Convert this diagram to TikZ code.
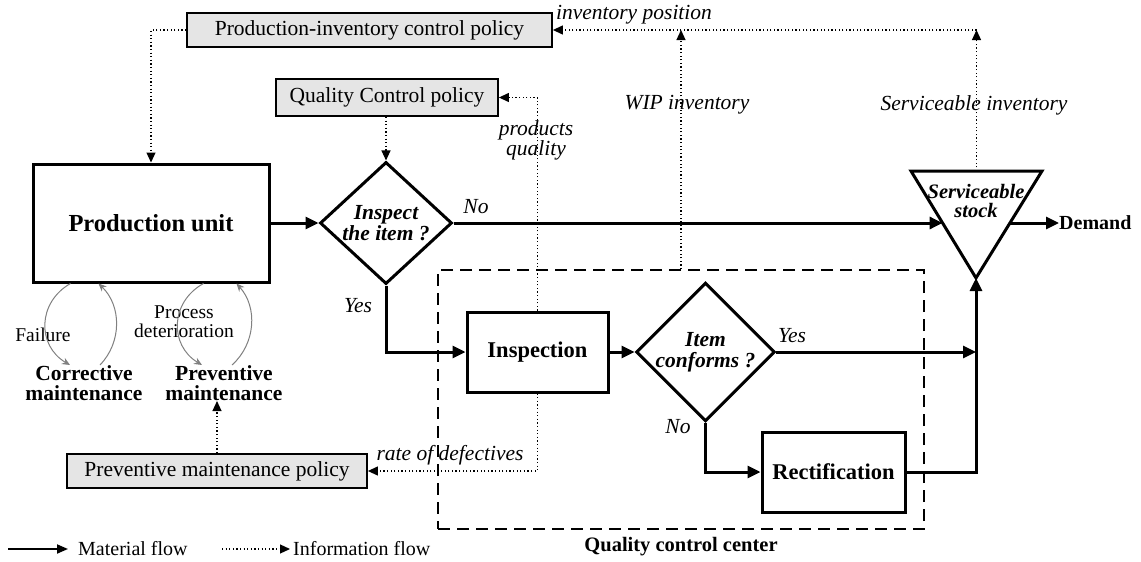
\documentclass[tikz,border=0pt]{standalone}
\usepackage{fontspec}
\setmainfont{Liberation Serif}
\usetikzlibrary{shapes.geometric,arrows.meta,calc}

\tikzset{
  block/.style={draw,line width=3pt,font=\bfseries\fontsize{22.5}{24}\selectfont,inner sep=0pt},
  policy/.style={draw,line width=1.8pt,fill=gray!20,font=\fontsize{21.5}{24}\selectfont,inner sep=0pt},
  decision/.style={diamond,draw,line width=3pt,inner sep=0pt,align=center,font=\bfseries\itshape\fontsize{21.5}{20.5}\selectfont},
  flow/.style={line width=3pt,-{Triangle[length=13pt,width=12pt]}},
  info/.style={line width=1.2pt,dash pattern=on 1.2pt off 2.4pt,-{Triangle[length=10pt,width=9pt]}},
  fb/.style={gray,line width=1pt,-{Stealth[length=8pt,width=7pt]}},
  lbl/.style={font=\itshape\fontsize{21.5}{22}\selectfont,inner sep=0pt},
  note/.style={font=\fontsize{19.5}{19}\selectfont,inner sep=0pt,align=center},
  maint/.style={anchor=north,align=center,font=\bfseries\fontsize{21.5}{20.5}\selectfont,inner sep=0pt},
}

\begin{document}
\begin{tikzpicture}[x=1pt,y=-1pt]
\useasboundingbox (0,0) rectangle (1141,562);

% control policies
\node[policy,minimum width=365pt,minimum height=34pt] (pip) at (369.5,30) {Production-inventory control policy};
\node[policy,minimum width=222pt,minimum height=37pt] (qcp) at (387,97.5) {Quality Control policy};
\node[policy,minimum width=300pt,minimum height=34pt] (pmp) at (217,471) {Preventive maintenance policy};

% quality control center
\node[draw,line width=1.8pt,dash pattern=on 12pt off 7pt,minimum width=486pt,minimum height=259pt] (qcc) at (681,399.5) {};
\node[font=\bfseries\fontsize{20.5}{22}\selectfont,inner sep=0pt] (qcclbl) at (681,547) {Quality control center};

% material flow
\node[block,minimum width=236pt,minimum height=118pt,font=\bfseries\fontsize{24.5}{26}\selectfont] (pu) at (151,223) {Production unit};
\node[decision,minimum width=132pt,minimum height=114pt] (d1) at (386,223) {Inspect\\the item ?};
\node[block,minimum width=141pt,minimum height=80pt] (insp) at (537.5,352) {Inspection};
\node[decision,minimum width=131pt,minimum height=115pt] (d2) at (705.5,352) {Item\\conforms ?};
\node[block,minimum width=143pt,minimum height=80pt] (rect) at (833.5,472) {Rectification};

% serviceable stock
\coordinate (st-l) at (911,171);
\coordinate (st-r) at (1042,171);
\coordinate (st-b) at (976,278);
\draw[line width=3pt,line join=miter] (st-l) -- (st-r) -- (st-b) -- cycle;
\coordinate (st-t) at ($(st-l)!0.5!(st-r)$);
\coordinate (st-in) at ($(st-l)!0.486!(st-b)$);
\coordinate (st-out) at ($(st-r)!0.486!(st-b)$);
\node[align=center,font=\bfseries\itshape\fontsize{20.5}{19}\selectfont,inner sep=0pt] (stock) at (976,201) {Serviceable\\stock};
\node[anchor=west,font=\bfseries\fontsize{20}{22}\selectfont,inner sep=0pt] (dem) at (1059,223) {Demand};

\draw[flow] (pu.east) -- (d1.west);
\draw[flow] (d1.east) -- (d1.east -| st-in);
\draw[flow] (d1.south) |- (insp.west);
\draw[flow] (insp.east) -- (d2.west);
\draw[flow] (d2.east) -- (d2.east -| st-b);
\draw[flow] (d2.south) |- (rect.west);
\draw[flow] (rect.east) -| (st-b);
\draw[flow] (st-out) -- (st-out -| dem.west);

\node[lbl] (no1) at (476,207) {No};
\node[lbl] (yes1) at (358,306) {Yes};
\node[lbl] (yes2) at (792,336) {Yes};
\node[lbl] (no2) at (678,427) {No};

% information flow
\draw[info] (pip.west) -| (pu.north);
\draw[info] (d1.north |- qcp.south) -- (d1.north);
\draw[info] (insp.north) |- (qcp.east);
\draw[info] (insp.south) |- (pmp.east);
\draw[info] (qcc.north) -- (qcc.north |- pip.east);
\draw[info] (st-t) -- (st-t |- pip.east);
\draw[info] (st-t |- pip.east) -- (pip.east);

\node[lbl] (invpos) at (634,15) {inventory position};
\node[lbl] (wip) at (687,105) {WIP inventory};
\node[lbl] (servinv) at (974,105) {Serviceable inventory};
\node[lbl,align=center,font=\itshape\fontsize{21.5}{20}\selectfont] (pq) at (536,140) {products\\quality};
\node[lbl] (rod) at (450,455) {rate of defectives};

% maintenance
\node[maint] (cm) at (84,365) {Corrective\\maintenance};
\node[maint] (pm) at (224,365) {Preventive\\maintenance};
\node[note] (fail) at (43,335) {Failure};
\node[note] (proc) at (184,322) {Process\\deterioration};
\draw[info] (pmp.north) -- (pmp.north |- pm.south);

\draw[fb] ([xshift=39pt]pu.south west) to[bend right=60,looseness=1.2] ([xshift=-14pt]cm.north);
\draw[fb] ([xshift=16pt]cm.north) to[bend right=45] ([xshift=67pt]pu.south west);
\draw[fb] ([xshift=172pt]pu.south west) to[bend right=60,looseness=1.2] ([xshift=-22pt]pm.north);
\draw[fb] ([xshift=8pt]pm.north) to[bend right=45] ([xshift=205pt]pu.south west);

% legend
\coordinate (lg1) at (8,549);
\node[anchor=west,font=\fontsize{20}{22}\selectfont,inner sep=0pt] (lgmat) at (78,549) {Material flow};
\draw[line width=1.8pt,-{Triangle[length=11pt,width=9pt]}] (lg1) -- ([xshift=-10pt]lgmat.west);
\coordinate (lg2) at (222,549);
\node[anchor=west,font=\fontsize{20}{22}\selectfont,inner sep=0pt] (lginf) at (293,549) {Information flow};
\draw[info] (lg2) -- ([xshift=-3pt]lginf.west);
\end{tikzpicture}
\end{document}
